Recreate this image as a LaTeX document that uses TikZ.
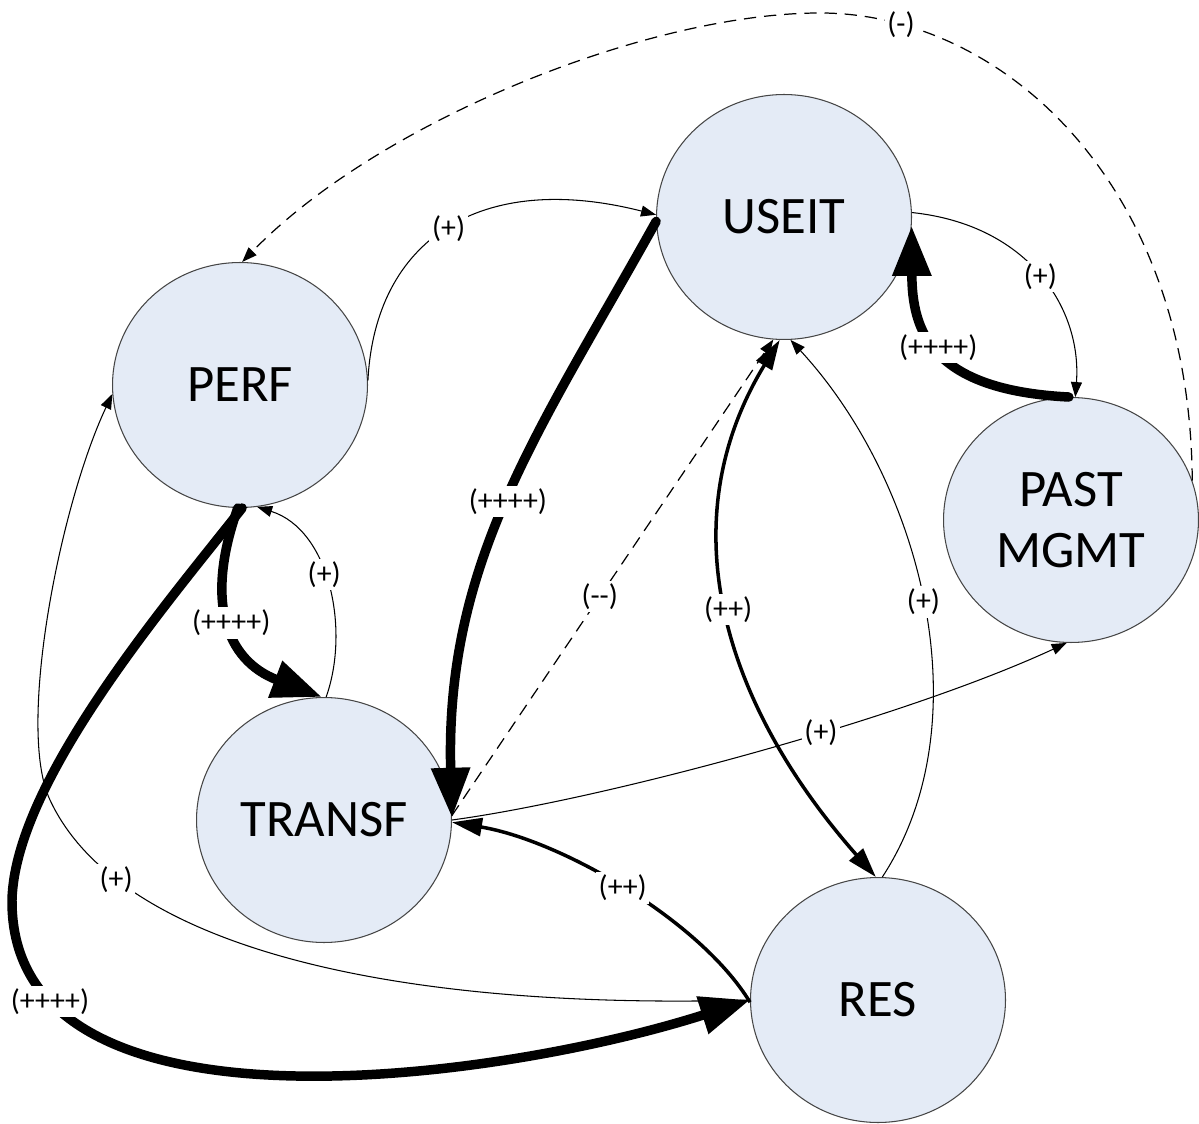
\documentclass[tikz,border=0pt]{standalone}
\usepackage{fontspec}
\setmainfont{Carlito}
\usetikzlibrary{shapes.geometric,arrows.meta}
\definecolor{nodefill}{RGB}{228,235,246}
\definecolor{nodeline}{RGB}{70,70,70}
\begin{document}
\begin{tikzpicture}[x=0.02cm,y=-0.02cm,
  state/.style={ellipse, draw=nodeline, line width=0.6pt, fill=nodefill,
    minimum width=5.1cm, minimum height=4.9cm, inner sep=0pt,
    font=\fontsize{30}{34.5}\selectfont, align=center},
  lbl/.style={fill=white, inner sep=1.5pt, font=\fontsize{17}{19}\selectfont},
  lowarr/.style={line width=0.6pt, -{Triangle[length=0.3cm,width=0.22cm]}},
  midarr/.style={line width=2pt, -{Triangle[length=0.6cm,width=0.36cm]}},
  midtwo/.style={line width=2pt, {Triangle[length=0.6cm,width=0.36cm]}-{Triangle[length=0.6cm,width=0.36cm]}},
  higharr/.style={line width=5.4pt, line cap=round, -{Triangle[length=1.0cm,width=0.74cm]}},
  dasharr/.style={line width=0.7pt, dash pattern=on 7pt off 4.5pt, -{Triangle[length=0.3cm,width=0.22cm]}},
]
\useasboundingbox (0,0) rectangle (1199,1124);

% nodes
\node[state] (USEIT) at (784,217) {USEIT};
\node[state] (PERF) at (240,385) {PERF};
\node[state] (PAST) at (1071,520) {PAST\\MGMT};
\node[state] (TRANSF) at (324,820) {TRANSF};
\node[state] (RES) at (878,1000) {RES};

% via points
\coordinate (pT) at (820,13);
\coordinate (pL) at (12,900);
\coordinate (pM) at (50,800);

% thin and dashed connectors
\draw[dasharr] (PAST.18) .. controls (1190,180) and (1000,13) .. (pT) node[lbl,pos=0.85]{(-)}
  .. controls (650,13) and (380,120) .. (PERF.89);
\draw[lowarr] (PERF.2) .. controls (375,240) and (480,170) .. (USEIT.179) node[lbl,pos=0.5]{(+)};
\draw[lowarr] (USEIT.2) .. controls (1030,225) and (1082,310) .. (PAST.88) node[lbl,pos=0.5]{(+)};
\draw[lowarr] (TRANSF.89) .. controls (350,630) and (330,530) .. (PERF.-82) node[lbl,pos=0.55]{(+)};
\draw[lowarr] (RES.180) .. controls (400,1010) and (120,950) .. (pM) node[lbl,pos=0.8]{(+)}
  .. controls (16,728) and (60,505) .. (PERF.184);
\draw[dasharr] (TRANSF.2) -- (USEIT.-95) node[lbl,pos=0.46]{(-{}-)};
\draw[lowarr] (RES.88) .. controls (985,720) and (920,480) .. (USEIT.-87) node[lbl,pos=0.5]{(+)};
\draw[lowarr] (TRANSF.0) .. controls (600,800) and (900,720) .. (PAST.-92) node[lbl,pos=0.6]{(+)};

% medium connectors
\draw[midtwo] (USEIT.-92) .. controls (670,520) and (720,700) .. (RES.91) node[lbl,pos=0.5]{(++)};
\draw[midarr] (RES.181) .. controls (700,920) and (560,840) .. (TRANSF.-1) node[lbl,pos=0.5]{(++)};

% heavy connectors
\draw[higharr] (USEIT.182) .. controls (540,430) and (445,560) .. (TRANSF.1) node[lbl,pos=0.5]{(++++)};
\draw[higharr] (PAST.91) .. controls (930,390) and (912,330) .. (USEIT.-4) node[lbl,pos=0.5]{(++++)};
\draw[higharr] (PERF.-91) .. controls (205,600) and (225,660) .. (TRANSF.91) node[lbl,pos=0.5]{(++++)};
\draw[higharr] (PERF.-89) .. controls (170,600) and (15,780) .. (pL)
  .. controls (10,1150) and (500,1080) .. (RES.180) node[lbl,pos=0.17]{(++++)};
\end{tikzpicture}
\end{document}
